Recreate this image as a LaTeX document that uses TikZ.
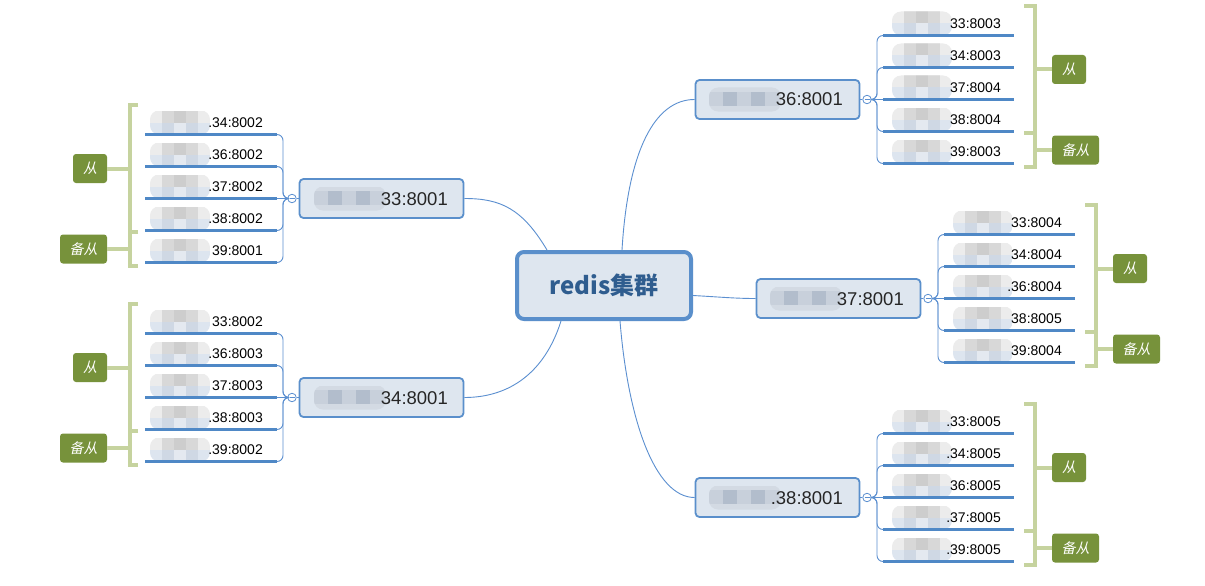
\documentclass[tikz,border=0pt]{standalone}
\usepackage{fontspec}
\setmainfont{Liberation Sans}
\newfontfamily\cjk{Noto Sans CJK SC}
\newfontfamily\cjki[FakeSlant=0.2]{Noto Sans CJK SC}
\usetikzlibrary{backgrounds}
\definecolor{mfill}{HTML}{DEE6EF}
\definecolor{mline}{HTML}{5A8FCB}
\definecolor{cline}{HTML}{5B8FD0}
\definecolor{uline}{HTML}{4F88C6}
\definecolor{brkc}{HTML}{C6D39F}
\definecolor{labf}{HTML}{77923B}
\definecolor{ctext}{HTML}{2F5D8F}
\definecolor{bla}{HTML}{ECECEC}
\definecolor{blb}{HTML}{DDE5EF}
\definecolor{blc}{HTML}{D8D8D8}
\definecolor{bld}{HTML}{CDCDCD}
\definecolor{ble}{HTML}{CFD8E4}
\definecolor{blf}{HTML}{E4E9F0}
\definecolor{mba}{HTML}{C8D0DB}
\definecolor{mbb}{HTML}{B2BDCC}
\definecolor{mbc}{HTML}{D3DAE3}
\tikzset{
  master/.style={draw=mline, line width=1.8pt, fill=mfill, rounded corners=4pt,
    minimum width=164pt, minimum height=39pt, inner sep=0pt},
  centre/.style={draw=mline, line width=4pt, fill=mfill, rounded corners=7pt,
    minimum width=174pt, minimum height=67pt, inner sep=0pt, text=ctext},
  mtext/.style={inner sep=0pt, text=black!85, font=\fontsize{18.5}{20}\selectfont},
  ltext/.style={inner sep=0pt, text=black, font=\fontsize{14}{15}\selectfont},
  toggle/.style={circle, draw=cline, fill=white, line width=0.8pt, minimum size=8.5pt, inner sep=0pt},
  conn/.style={draw=cline, line width=0.9pt},
  under/.style={draw=uline, line width=3pt},
  brk/.style={draw=brkc, line width=4pt},
  lab/.style={fill=labf, rounded corners=3pt, minimum height=29pt, inner sep=0pt,
    text=white, font=\cjki\fontsize{14}{14}\selectfont},
  leafblob/.pic={
    \begin{scope}
      \clip[rounded corners=9pt] (-30,-12) rectangle (30,12);
      \fill[bla] (-30,-12) rectangle (30,0);
      \fill[blb] (-30,0) rectangle (30,12);
      \fill[blc] (-18,-12) rectangle (-6,0);
      \fill[bld] (-6,-12) rectangle (6,0);
      \fill[blc] (6,-12) rectangle (18,0);
      \fill[ble] (-18,0) rectangle (-6,12);
      \fill[blf] (-6,0) rectangle (6,12);
      \fill[ble] (6,0) rectangle (18,12);
    \end{scope}},
  mblob/.pic={
    \begin{scope}
      \clip[rounded corners=9pt] (-36,-12) rectangle (36,12);
      \fill[mbc] (-36,-12) rectangle (36,12);
      \fill[mba] (-36,-8) rectangle (-22,6);
      \fill[mbb] (-22,-8) rectangle (-8,6);
      \fill[mba] (-8,-8) rectangle (6,6);
      \fill[mbb] (6,-8) rectangle (20,6);
      \fill[mba] (20,-8) rectangle (34,6);
    \end{scope}}
}
% right-hand group: id, dx, my, master text, leaves
\newcommand\rgrp[5]{%
  \node[master] (#1m) at (777.5+#2,#3) {};
  \pic at (745+#2,#3) {mblob};
  \node[mtext, anchor=base east] (#1mt) at (843+#2,#3+6.5) {#4};
  \node[toggle] (#1k) at (867+#2,#3) {};
  \draw[conn] ([xshift=-2.5pt]#1k.center) -- ([xshift=2.5pt]#1k.center);
  \draw[conn] (#1m.east) -- (#1k.west);
  \foreach \t [count=\i] in {#5} {
    \pgfmathsetmacro\ly{#3+32*(\i-3)}
    \coordinate (#1s\i) at (883+#2,\ly);
    \coordinate (#1e\i) at (1014+#2,\ly);
    \pic at (922+#2,\ly-12) {leafblob};
    \node[ltext, anchor=base east] (#1t\i) at (1001+#2,\ly-7) {\t};
    \draw[under] (#1s\i) -- (#1e\i);
    \ifnum\i=3
      \draw[conn] (#1k.east) -- (#1s\i);
    \else
      \draw[conn, rounded corners=6pt] (#1k.east) -- (877+#2,#3) |- (#1s\i);
    \fi
  }
  \draw[brk] (1024+#2,#3-93.5) -- (1035+#2,#3-93.5) -- (1035+#2,#3+67.5) -- (1024+#2,#3+67.5);
  \draw[brk] (1024+#2,#3+33.5) -- (1035+#2,#3+33.5);
  \node[lab, minimum width=34pt] (#1q1) at (1069+#2,#3-30) {从};
  \node[lab, minimum width=47pt] (#1q2) at (1075.5+#2,#3+50.5) {备从};
  \draw[brk] (1035+#2,#3-30) -- (#1q1.west);
  \draw[brk] (1035+#2,#3+50.5) -- (#1q2.west);
}
% left-hand group: id, my, master text, leaves
\newcommand\lgrp[4]{%
  \node[master] (#1m) at (381.5,#2) {};
  \pic at (350,#2) {mblob};
  \node[mtext, anchor=base east] (#1mt) at (448,#2+6.5) {#3};
  \node[toggle] (#1k) at (292,#2) {};
  \draw[conn] ([xshift=-2.5pt]#1k.center) -- ([xshift=2.5pt]#1k.center);
  \draw[conn] (#1m.west) -- (#1k.east);
  \foreach \t [count=\i] in {#4} {
    \pgfmathsetmacro\ly{#2+32*(\i-3)}
    \coordinate (#1s\i) at (277,\ly);
    \coordinate (#1e\i) at (145,\ly);
    \pic at (180,\ly-12) {leafblob};
    \node[ltext, anchor=base east] (#1t\i) at (263,\ly-7) {\t};
    \draw[under] (#1s\i) -- (#1e\i);
    \ifnum\i=3
      \draw[conn] (#1k.west) -- (#1s\i);
    \else
      \draw[conn, rounded corners=6pt] (#1k.west) -- (283,#2) |- (#1s\i);
    \fi
  }
  \draw[brk] (138,#2-93.5) -- (130,#2-93.5) -- (130,#2+67.5) -- (138,#2+67.5);
  \draw[brk] (138,#2+33.5) -- (130,#2+33.5);
  \node[lab, minimum width=34pt] (#1q1) at (90,#2-30) {从};
  \node[lab, minimum width=47pt] (#1q2) at (83.5,#2+50.5) {备从};
  \draw[brk] (130,#2-30) -- (#1q1.east);
  \draw[brk] (130,#2+50.5) -- (#1q2.east);
}
\begin{document}
\begin{tikzpicture}[x=1pt,y=-1pt]
\useasboundingbox (0,0) rectangle (1205,586);
\node[centre] (c) at (604,285.5) {\cjk\bfseries\fontsize{24}{26}\selectfont redis集群};
\rgrp{a}{0}{99.5}{36:8001}{33:8003,34:8003,37:8004,38:8004,39:8003}
\rgrp{b}{61}{298.5}{37:8001}{33:8004,34:8004,.36:8004,38:8005,39:8004}
\rgrp{d}{0}{497.5}{.38:8001}{.33:8005,.34:8005,36:8005,.37:8005,.39:8005}
\lgrp{e}{198.5}{33:8001}{.34:8002,.36:8002,.37:8002,.38:8002,39:8001}
\lgrp{f}{397.5}{34:8001}{33:8002,.36:8003,37:8003,.38:8003,.39:8002}
\begin{pgfonlayer}{background}
  \fill[white] (0,0) rectangle (1205,586);
  \draw[conn] ([xshift=18pt]c.north) .. controls (628,150) and (655,99.5) .. (am.west);
  \draw[conn] ([xshift=-57pt]c.north) .. controls (522,208) and (500,198.5) .. (em.east);
  \draw[conn] ([xshift=-43pt]c.south) .. controls (545,372) and (510,397.5) .. (fm.east);
  \draw[conn] ([yshift=-10pt]c.east) .. controls (720,297) and (735,298.5) .. (bm.west);
  \draw[conn] ([xshift=16pt]c.south) .. controls (628,420) and (655,497.5) .. (dm.west);
\end{pgfonlayer}
\end{tikzpicture}
\end{document}
